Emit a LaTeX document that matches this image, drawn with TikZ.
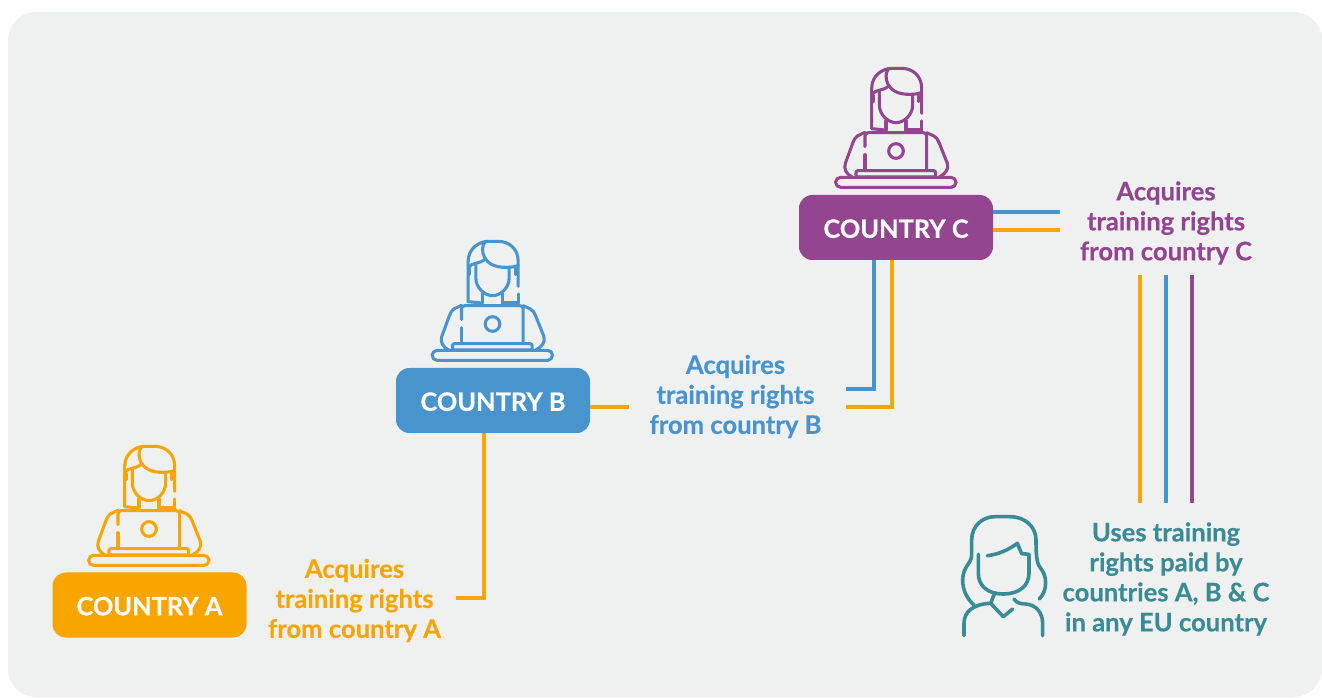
\documentclass[tikz,border=0pt]{standalone}
\usepackage{fontspec}
\setmainfont{Lato}[BoldFeatures={FakeBold=0.4}]
\definecolor{orng}{HTML}{F9A500}
\definecolor{blu}{HTML}{4A94CE}
\definecolor{purp}{HTML}{93458F}
\definecolor{teal2}{HTML}{3A8B94}
\definecolor{bgc}{HTML}{EFF0F0}
\tikzset{
  countrybox/.style={rectangle,rounded corners=10pt,minimum width=145.5pt,minimum height=48.75pt,inner sep=0pt,text=white,text height=15.5pt,text depth=0pt,font=\fontsize{19}{22}\selectfont\bfseries},
  lbl/.style={align=center,inner sep=0pt,font=\fontsize{19.2}{22.5}\selectfont\bfseries},
  link/.style={line width=3.5pt},
  person/.pic={
    \begin{scope}[x=0.25pt,y=-0.25pt,shift={(-228,-435)},line width=2.3pt,line cap=round,line join=round]
      % hair
      \draw (155,236) -- (155,115) .. controls (155,75) and (190,55) .. (215,55) -- (245,55) .. controls (275,55) and (305,75) .. (305,115) -- (305,190);
      \draw (305,213) -- (305,240);
      \draw (155,236) -- (196,240);
      \draw (258,240) -- (305,240);
      % fringe
      \draw (205,58) .. controls (190,75) and (195,135) .. (270,133) .. controls (285,133) and (295,131) .. (305,128);
      \draw (158,132) .. controls (165,118) and (185,125) .. (207,108);
      % face
      \draw (178,125) -- (178,165) .. controls (178,195) and (205,218) .. (228,218) .. controls (252,218) and (278,195) .. (278,165) -- (278,133);
      \draw (198,212) -- (198,240);
      \draw (258,212) -- (258,240);
      \draw (160,137) -- (160,155) (296,137) -- (296,155);
      % laptop
      \draw (135,290) -- (135,258) .. controls (135,252) and (138,248) .. (145,248) -- (310,248) .. controls (317,248) and (320,252) .. (320,258) -- (320,362);
      \draw (135,314) -- (135,362);
      \draw (228,303) circle[radius=22];
      \draw[rounded corners=1.5pt] (108,362) rectangle (347,381);
      \draw[rounded corners=3.7pt] (47,382) rectangle (408,412);
      % arms
      \draw (135,247) -- (112,258) .. controls (105,262) and (102,270) .. (98,280) -- (76,340) .. controls (70,358) and (80,372) .. (96,381);
      \draw (320,248) -- (342,258) .. controls (350,262) and (354,270) .. (358,280) -- (382,340) .. controls (388,358) and (375,372) .. (358,381);
    \end{scope}
  }
}
\begin{document}
\begin{tikzpicture}[x=0.75pt,y=-0.75pt]
\useasboundingbox (0,0) rectangle (1322,698);
\fill[bgc,rounded corners=21pt] (8,12) rectangle (1322,697);

\node[countrybox,fill=orng] (boxA) at (149.5,605) {COUNTRY A};
\node[countrybox,fill=blu]  (boxB) at (493,400.5) {COUNTRY B};
\node[countrybox,fill=purp] (boxC) at (896,227.5) {COUNTRY C};

\pic[color=orng] at (149,573) {person};
\pic[color=blu]  at (492.5,368) {person};
\pic[color=purp] at (896,195) {person};

\node[lbl,text=orng] (lblA) at (354.5,600.5) {Acquires\\training rights\\from country A};
\node[lbl,text=blu]  (lblB) at (735.5,396.5) {Acquires\\training rights\\from country B};
\node[lbl,text=purp] (lblC) at (1166,223) {Acquires\\training rights\\from country C};
\node[lbl,text=teal2] (lblU) at (1166,579) {Uses training\\rights paid by\\countries A, B \& C\\in any EU country};

% free ends
\coordinate (endA) at (456,598);
\coordinate (endBo) at (629,407);
\coordinate (endCb) at (846,389);
\coordinate (endCo) at (846,407);
\coordinate (endEb) at (1060,212);
\coordinate (endEo) at (1060,230);
\coordinate (vot) at (1140,275); \coordinate (vob) at (1140,503);
\coordinate (vbt) at (1166,275); \coordinate (vbb) at (1166,503);
\coordinate (vpt) at (1192,275); \coordinate (vpb) at (1192,503);

\draw[link,orng] (boxB.south -| 484,0) -- (484,598) -- (endA);
\draw[link,orng] (boxB.east |- endBo) -- (endBo);
\draw[link,blu] (boxC.south -| 874,0) -- (874,389) -- (endCb);
\draw[link,orng] (boxC.south -| 892,0) -- (892,407) -- (endCo);
\draw[link,blu] (boxC.east |- endEb) -- (endEb);
\draw[link,orng] (boxC.east |- endEo) -- (endEo);
\draw[link,orng] (vot) -- (vob);
\draw[link,blu] (vbt) -- (vbb);
\draw[link,purp] (vpt) -- (vpb);

% seated user
\begin{scope}[shift={(950,505)},x=0.25pt,y=-0.25pt,teal2,line width=2.7pt,line cap=round,line join=round]
  \draw (268,282) .. controls (295,255) and (290,210) .. (272,190) .. controls (262,178) and (258,160) .. (258,105) .. controls (258,65) and (225,35) .. (180,35) -- (135,35) .. controls (95,35) and (65,65) .. (65,105) -- (65,150) .. controls (65,175) and (38,185) .. (38,225) .. controls (38,260) and (55,285) .. (72,300);
  \draw (85,148) -- (85,205) .. controls (85,240) and (110,267) .. (160,267) .. controls (210,267) and (237,240) .. (237,205) -- (237,148) -- (215,146) -- (202,115) .. controls (175,135) and (145,148) .. (112,152);
  \draw (133,267) -- (122,295) -- (160,335) -- (188,312);
  \draw (42,392) -- (42,355) .. controls (42,320) and (70,297) .. (122,295);
  \draw (192,282) .. controls (200,295) and (215,297) .. (228,297) .. controls (260,300) and (278,325) .. (278,355) -- (278,392);
\end{scope}
\end{tikzpicture}
\end{document}
